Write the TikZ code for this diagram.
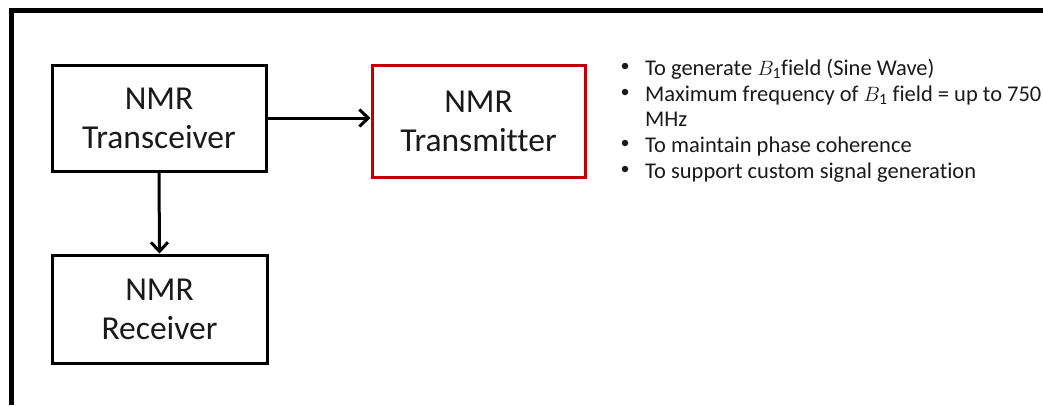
\documentclass[tikz,border=0pt]{standalone}
\usepackage{fontspec}
\setmainfont{Carlito}[Ligatures={NoCommon}]
\usetikzlibrary{arrows.meta}
\definecolor{boxred}{HTML}{C00000}
\definecolor{txt}{HTML}{1A1A1A}
\tikzset{
  x=1pt, y=-1pt,
  blockbox/.style={draw=black, line width=3pt, fill=white, align=center,
    font=\fontsize{33.5}{39}\selectfont, text=txt, inner sep=0pt},
  conn/.style={line width=3pt, -{Straight Barb[length=9pt,width=17pt,line width=3pt]}},
  bul/.style={anchor=base west, inner sep=0pt, font=\fontsize{22.5}{26}\selectfont, text=txt},
  dot/.style={circle, fill=txt, inner sep=0pt, minimum size=6.5pt},
  frameline/.style={line width=4.5pt}
}
\begin{document}
\begin{tikzpicture}
\useasboundingbox (0,0) rectangle (1043,405);
\fill[white] (0,0) rectangle (1043,405);
% frame
\draw[frameline] (11.5,405) -- (11.5,10.5) -- (1043,10.5);
% blocks
\node[blockbox, minimum width=214pt, minimum height=106pt] (trx) at (159,118) {NMR\\Transceiver};
\node[blockbox, minimum width=215pt, minimum height=108pt] (rx) at (159.5,309) {NMR\\Receiver};
\node[blockbox, draw=boxred, minimum width=213pt, minimum height=112pt] (tx) at (478.5,121) {NMR\\Transmitter};
% connectors
\draw[conn] (trx.east |- 0,118) -- (tx.west |- 0,118);
\draw[conn] (trx.south) -- (rx.north);
% bullet list
\node[dot] (b1) at (625,66) {};
\node[bul] (l1) at (645,75) {To generate $\mathsurround=0pt\textstyle B_{\mathrm{1}}$field (Sine Wave)};
\node[dot] (b2) at (625,92) {};
\node[bul] (l2) at (645,101) {Maximum frequency of $B_{\mathrm{1}}$ field = up to 750};
\node[bul] (l2b) at (645,126) {MHz};
\node[dot] (b3) at (625,143) {};
\node[bul] (l3) at (645,152) {To maintain phase coherence};
\node[dot] (b4) at (625,169) {};
\node[bul] (l4) at (645,178) {To support custom signal generation};
\end{tikzpicture}
\end{document}
